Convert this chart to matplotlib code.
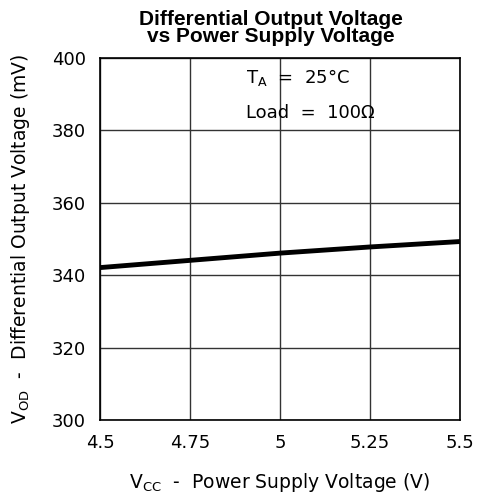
import matplotlib
matplotlib.use("Agg")
import matplotlib.pyplot as plt

vcc = [4.5, 4.75, 5.0, 5.25, 5.5]
vod = [342.1, 344.1, 346.1, 347.8, 349.3]
xticks = [4.5, 4.75, 5.0, 5.25, 5.5]
xticklabels = ["4.5", "4.75", "5", "5.25", "5.5"]
yticks = [300, 320, 340, 360, 380, 400]

plt.rcParams['font.family'] = ['DejaVu Sans']
plt.rcParams['mathtext.fontset'] = 'dejavusans'
fig = plt.figure(figsize=(4.79, 5.0), dpi=100)
ax = fig.add_axes([100/479, 1-420/500, 360/479, 362/500])

ax.plot(vcc, vod, color='black', linewidth=3.5, solid_capstyle='butt')
ax.set_xlim(4.5, 5.5)
ax.set_ylim(300, 400)
ax.set_xticks(xticks)
ax.set_xticklabels(xticklabels)
ax.set_yticks(yticks)
ax.grid(True, color='#333333', linewidth=1.0)
ax.tick_params(length=0, labelsize=13, pad=10)
for s in ax.spines.values():
    s.set_linewidth(1.2)
    s.set_color('black')

ax.set_xlabel(r"V$_{\mathregular{CC}}$  -  Power Supply Voltage (V)", fontsize=13.5, labelpad=14)
ax.set_ylabel(r"V$_{\mathregular{OD}}$  -  Differential Output Voltage (mV)", fontsize=13.5, labelpad=14)
fig.text(271/479, 1-28/500, "Differential Output Voltage\nvs Power Supply Voltage", ha='center', va='center',
         fontsize=15, fontweight='bold', linespacing=0.9, family='Liberation Sans')

fig.text(246/479, 1-77/500, r"T$_{\mathregular{A}}$  =  25°C", ha='left', va='center', fontsize=13)
fig.text(246/479, 1-113/500, "Load  =  100Ω", ha='left', va='center', fontsize=13)

fig.savefig("out.png", dpi=100)
